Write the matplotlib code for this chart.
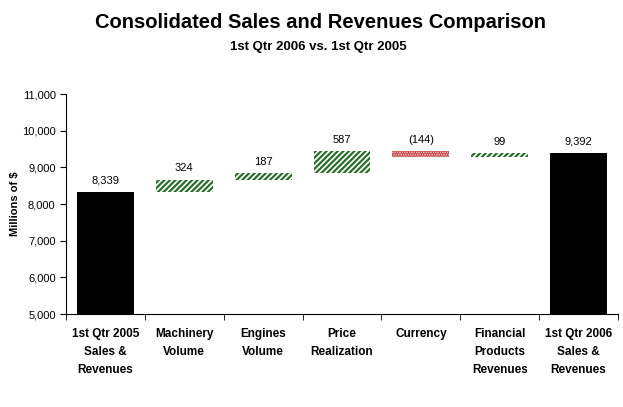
import numpy as np
import matplotlib.pyplot as plt
from matplotlib.ticker import FuncFormatter

plt.rcParams['font.family'] = ['Liberation Sans', 'DejaVu Sans']
plt.rcParams['hatch.linewidth'] = 1.6

categories = ['1st Qtr 2005\nSales &\nRevenues', 'Machinery\nVolume', 'Engines\nVolume',
              'Price\nRealization', 'Currency', 'Financial\nProducts\nRevenues',
              '1st Qtr 2006\nSales &\nRevenues']
start_total = 8339
changes = [324, 187, 587, -144, 99]
end_total = 9392
labels = ['8,339', '324', '187', '587', '(144)', '99', '9,392']

fig = plt.figure(figsize=(6.23, 4.07), dpi=100)
ax = fig.add_axes([0.106, 0.2285, 0.886, 0.5405])

x = np.arange(len(categories))
w = 0.72

ax.bar(x[0], start_total, width=w, bottom=0, color='black')
level = start_total
tops = [start_total]
for i, c in enumerate(changes, start=1):
    lo = level if c > 0 else level + c
    if c > 0:
        ax.bar(x[i], c, width=w, bottom=lo, facecolor='white', edgecolor='#2a6e2a',
               hatch='//////', linewidth=0)
    else:
        ax.bar(x[i], -c, width=w, bottom=lo, facecolor='#f6dede', edgecolor='#c43a3a',
               hatch='.......', linewidth=0)
    tops.append(max(level, level + c))
    level += c
ax.bar(x[6], end_total, width=w, bottom=0, color='black')
tops.append(end_total)

for xi, t, lab in zip(x, tops, labels):
    ax.text(xi, t + 170, lab, ha='center', va='bottom', fontsize=8)

ax.set_ylim(5000, 11000)
ax.set_xlim(-0.5, 6.5)
ax.set_yticks(np.arange(5000, 11001, 1000))
ax.yaxis.set_major_formatter(FuncFormatter(lambda v, p: f'{int(v):,}'))
ax.tick_params(axis='y', labelsize=8, direction='out', length=4)

ax.set_xticks(x)
ax.set_xticklabels(categories, fontsize=8.5, fontweight='bold', va='top', linespacing=1.65)
ax.tick_params(axis='x', which='major', length=0, pad=10)
ax.set_xticks(np.arange(-0.5, 7, 1), minor=True)
ax.tick_params(axis='x', which='minor', length=4, direction='out')

for s in ['top', 'right']:
    ax.spines[s].set_visible(False)

ax.set_ylabel('Millions of $', fontsize=8, fontweight='bold', labelpad=1)

fig.text(0.514, 0.93, 'Consolidated Sales and Revenues Comparison', ha='center',
         fontsize=14.5, fontweight='bold')
fig.text(0.511, 0.877, '1st Qtr 2006 vs. 1st Qtr 2005', ha='center', fontsize=9.5,
         fontweight='bold')

fig.savefig('out.png', dpi=100)
